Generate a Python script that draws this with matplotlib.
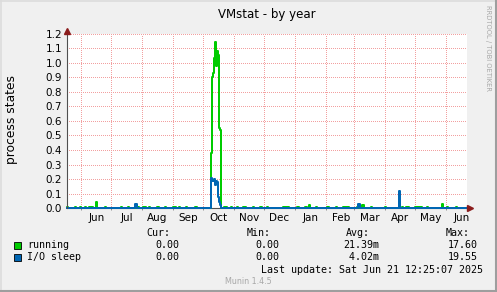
import matplotlib
matplotlib.use("Agg")
import matplotlib.pyplot as plt
import matplotlib.patches as mpatches
import matplotlib.lines as mlines
import pandas as pd

# ── Colours (munin / rrdtool look) ────────────────────────────────────────────
GREEN = "#00cc00"
BLUE = "#0066b3"
BACK = "#f0f0f0"
GRID = "#f2a0a0"
ARROW = "#8b1c1c"
W, H = 497, 292

# ── Data (daily averages) ─────────────────────────────────────────────────────
START = pd.Timestamp("2024-05-17 12:25")
END = pd.Timestamp("2025-06-21 12:25")

# small "running" blips: first day, last day, value
run_first = ["2024-05-18", "2024-05-26", "2024-05-31", "2024-06-05", "2024-06-09",
             "2024-06-16", "2024-06-25", "2024-07-11", "2024-07-18", "2024-07-28",
             "2024-08-02", "2024-08-08", "2024-08-16", "2024-08-24", "2024-09-01",
             "2024-09-07", "2024-09-14", "2024-09-23", "2024-10-22", "2024-10-29",
             "2024-11-04", "2024-11-10", "2024-11-20", "2024-11-27", "2024-12-04",
             "2024-12-20", "2025-01-03", "2025-01-11", "2025-01-15", "2025-01-22",
             "2025-02-02", "2025-02-11", "2025-02-18", "2025-03-04", "2025-03-09",
             "2025-03-18", "2025-04-01", "2025-04-18", "2025-04-22", "2025-05-01",
             "2025-05-13", "2025-05-28", "2025-06-02", "2025-06-11"]
run_last = ["2024-05-18", "2024-05-26", "2024-05-31", "2024-06-05", "2024-06-12",
            "2024-06-16", "2024-06-25", "2024-07-11", "2024-07-18", "2024-07-28",
            "2024-08-04", "2024-08-08", "2024-08-17", "2024-08-24", "2024-09-03",
            "2024-09-07", "2024-09-14", "2024-09-24", "2024-10-24", "2024-10-29",
            "2024-11-04", "2024-11-12", "2024-11-20", "2024-11-28", "2024-12-04",
            "2024-12-25", "2025-01-04", "2025-01-12", "2025-01-15", "2025-01-22",
            "2025-02-03", "2025-02-11", "2025-02-23", "2025-03-04", "2025-03-10",
            "2025-03-18", "2025-04-01", "2025-04-18", "2025-04-24", "2025-05-07",
            "2025-05-13", "2025-05-28", "2025-06-02", "2025-06-11"]
run_value = [0.012, 0.012, 0.012, 0.012, 0.012, 0.043, 0.012, 0.012, 0.012, 0.012,
             0.012, 0.012, 0.012, 0.012, 0.012, 0.012, 0.012, 0.012, 0.012, 0.012,
             0.012, 0.012, 0.012, 0.012, 0.012, 0.012, 0.012, 0.012, 0.022, 0.012,
             0.012, 0.012, 0.012, 0.012, 0.022, 0.012, 0.012, 0.012, 0.012, 0.012,
             0.012, 0.032, 0.012, 0.012]

# small "I/O sleep" blips
io_first = ["2024-07-25", "2025-03-05", "2025-04-15"]
io_last = ["2024-07-26", "2025-03-06", "2025-04-15"]
io_value = [0.028, 0.028, 0.12]

# the October burst
spike_dates = ["2024-10-09", "2024-10-10", "2024-10-11", "2024-10-12", "2024-10-13",
               "2024-10-14", "2024-10-15", "2024-10-16", "2024-10-17", "2024-10-18"]
spike_running = [0.38, 0.90, 0.93, 1.03, 1.14, 0.98, 1.08, 1.05, 0.55, 0.54]
spike_io = [0.21, 0.19, 0.19, 0.20, 0.16, 0.19, 0.18, 0.08, 0.04, 0.02]

months = ["Jun", "Jul", "Aug", "Sep", "Oct", "Nov", "Dec",
          "Jan", "Feb", "Mar", "Apr", "May", "Jun"]
month_starts = ["2024-06-01", "2024-07-01", "2024-08-01", "2024-09-01", "2024-10-01",
                "2024-11-01", "2024-12-01", "2025-01-01", "2025-02-01", "2025-03-01",
                "2025-04-01", "2025-05-01", "2025-06-01"]

legend_rows = [("running", GREEN, "0.00", "0.00", "21.39m", "17.60"),
               ("I/O sleep", BLUE, "0.00", "0.00", " 4.02m", "19.55")]


def build(first, last, value, spike):
    days = pd.date_range("2024-05-18", "2025-06-21", freq="D")
    s = pd.Series(0.0, index=days)
    for a, b, v in zip(first, last, value):
        s[a:b] = v
    for d, v in zip(spike_dates, spike):
        s[d] = v
    xs = [START] + list(days) + [END]
    ys = [0.0] + list(s.values) + [s.values[-1]]
    return xs, ys


def fx(x):
    return x / W


def fy(y):
    return 1 - y / H


fig = plt.figure(figsize=(W / 100, H / 100), dpi=100, facecolor=BACK)
ax = fig.add_axes([fx(67), fy(208.3), 400 / W, 174.8 / H])
ax.set_facecolor("white")

x_run, y_run = build(run_first, run_last, run_value, spike_running)
x_io, y_io = build(io_first, io_last, io_value, spike_io)
ax.step(x_run, y_run, where="post", color=GREEN, lw=1.44, clip_on=False, zorder=3)
ax.step(x_io, y_io, where="post", color=BLUE, lw=1.44, clip_on=False, zorder=4)

ax.set_xlim(START, END)
ax.set_ylim(0, 1.2)

# grid + ticks
yt = [i / 10 for i in range(13)]
ax.set_yticks(yt)
ax.set_yticklabels([f"{v:.1f}" for v in yt])
ms = [pd.Timestamp(m) for m in month_starts]
ax.set_xticks(ms)
ax.set_xticklabels([])
ax.set_xticks([m + pd.Timedelta(days=15) for m in ms], minor=True)
ax.set_xticklabels(months, minor=True)
ax.tick_params(axis="y", length=0, pad=3.6, labelsize=7.5)
ax.tick_params(axis="x", which="major", length=1.5, width=0.6, color="#808080")
ax.tick_params(axis="x", which="minor", length=0, pad=3.5, labelsize=7.5)
for v in yt[1:]:
    ax.axhline(v, color=GRID, lw=0.72, ls=(0, (1, 2)), zorder=1, antialiased=False)
for m in ms:
    ax.axvline(m, color=GRID, lw=0.72, ls=(0, (1, 2)), zorder=1, antialiased=False)

for s in ax.spines.values():
    s.set_visible(False)
# axes with arrows
ax.plot([0, 0], [0, 1.02], transform=ax.transAxes, color="#505050", lw=0.8,
        clip_on=False, zorder=5)
ax.plot([0, 1.0], [0, 0], transform=ax.transAxes, color="#505050", lw=0.8,
        clip_on=False, zorder=2)
ax.plot([0], [1.0 + 3 / 175], marker="^", ms=4.2, color=ARROW, mec=ARROW,
        transform=ax.transAxes, clip_on=False, zorder=6)
ax.plot([1.0 + 3 / 400], [0], marker=">", ms=4.2, color=ARROW, mec=ARROW,
        transform=ax.transAxes, clip_on=False, zorder=6)

# titles
fig.text(fx(267), fy(18.3), "VMstat - by year", ha="center", va="baseline",
         fontsize=8.5, family="DejaVu Sans")
fig.text(fx(12), fy(120), "process states", rotation=90, ha="center", va="center",
         fontsize=8.8, family="DejaVu Sans")
fig.text(fx(488), fy(5), "RRDTOOL / TOBI OETIKER", rotation=270, ha="center",
         va="top", fontsize=4.9, color="#a8a8a8")

# legend
MONO = "DejaVu Sans Mono"
LFS = 7.2
for txt, xr in [("Cur:", 170.7), ("Min:", 270.7), ("Avg:", 370), ("Max:", 469.3)]:
    fig.text(fx(xr), fy(233.3), txt, ha="right", va="center", family=MONO, fontsize=LFS)
for i, (name, col, cur, mn, avg, mx) in enumerate(legend_rows):
    yc = 245 + i * 12.5
    fig.patches.append(mpatches.Rectangle((fx(13.5), fy(yc + 3.5)), 7 / W, 7 / H,
                                          transform=fig.transFigure, facecolor=col,
                                          edgecolor="black", lw=0.6))
    fig.text(fx(27), fy(yc), name, ha="left", va="center", family=MONO, fontsize=LFS)
    for val, xr in [(cur, 179), (mn, 279), (avg, 379), (mx, 477.3)]:
        fig.text(fx(xr), fy(yc), val, ha="right", va="center", family=MONO, fontsize=LFS)
fig.text(fx(483), fy(270), "Last update: Sat Jun 21 12:25:07 2025", ha="right",
         va="center", family=MONO, fontsize=LFS)
fig.text(fx(248), fy(281), "Munin 1.4.5", ha="center", va="center",
         fontsize=5.8, color="#a8a8a8")

# frame
fig.add_artist(mlines.Line2D([0, 1], [fy(0.5), fy(0.5)], color="#dcdcdc", lw=1.2))
fig.add_artist(mlines.Line2D([fx(0.5), fx(0.5)], [0, 1], color="#dcdcdc", lw=1.2))
fig.add_artist(mlines.Line2D([0, 1], [fy(291), fy(291)], color="#9e9e9e", lw=1.5))
fig.add_artist(mlines.Line2D([fx(496), fx(496)], [0, 1], color="#9e9e9e", lw=1.5))

fig.savefig("out.png", dpi=100, facecolor=BACK)
